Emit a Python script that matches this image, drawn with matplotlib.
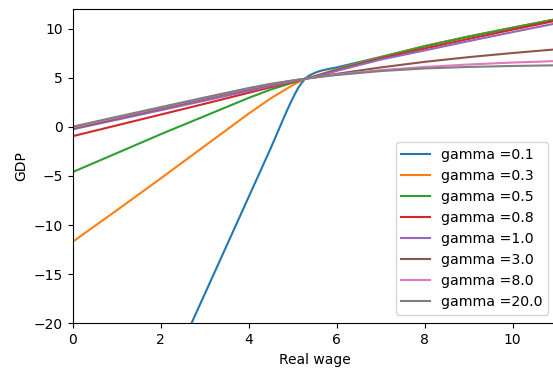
import numpy as np
import matplotlib
matplotlib.use('Agg')
import matplotlib.pyplot as plt

# values
gammas = [0.1, 0.3, 0.5, 0.8, 1.0, 3.0, 8.0, 20.0]

wage = [0, 1, 2, 3, 4, 4.5, 5, 5.28, 5.5, 6, 7, 8, 9, 10, 11]
gdp_03 = [-11.7, -8.5, -5.25, -1.95, 1.35, 2.9, 4.25, 4.9, 5.18, 5.87, 7.1, 8.22, 9.2, 10.1, 10.98]
gdp_05 = [-4.6, -2.68, -0.75, 1.1, 2.95, 3.8, 4.5, 4.9, 5.12, 5.82, 7.06, 8.18, 9.17, 10.08, 10.95]
gdp_08 = [-0.95, 0.15, 1.25, 2.35, 3.47, 4.03, 4.58, 4.9, 5.1, 5.75, 6.95, 7.98, 8.95, 9.9, 10.82]
gdp_10 = [-0.25, 0.72, 1.69, 2.67, 3.66, 4.16, 4.63, 4.9, 5.08, 5.7, 6.85, 7.78, 8.73, 9.65, 10.55]
gdp_30 = [-0.15, 0.86, 1.86, 2.86, 3.84, 4.3, 4.7, 4.9, 5.05, 5.4, 6.05, 6.62, 7.1, 7.52, 7.9]
gdp_80 = [-0.05, 0.96, 1.96, 2.95, 3.92, 4.36, 4.71, 4.9, 5.03, 5.33, 5.78, 6.1, 6.35, 6.55, 6.7]
gdp_200 = [0.02, 1.02, 2.01, 2.99, 3.95, 4.38, 4.72, 4.9, 5.02, 5.28, 5.68, 5.95, 6.1, 6.2, 6.27]

wage_01 = [2.7, 3, 3.5, 4, 4.5, 4.8, 4.94, 5.05, 5.13, 5.2, 5.28, 5.35, 5.43, 5.52, 5.62,
           5.8, 6, 7, 8, 9, 10, 11]
gdp_01 = [-20.0, -17.03, -12.08, -7.13, -2.18, 0.95, 2.35, 3.35, 4.0, 4.45, 4.9, 5.15, 5.35,
          5.53, 5.69, 5.88, 6.05, 7.12, 8.23, 9.21, 10.1, 10.98]

curves = [(wage_01, gdp_01), (wage, gdp_03), (wage, gdp_05), (wage, gdp_08),
          (wage, gdp_10), (wage, gdp_30), (wage, gdp_80), (wage, gdp_200)]

fig = plt.figure(figsize=(5.53, 3.69), dpi=100)
W, H = 553, 369
# axes box in pixels (right edge runs past the picture like the reference)
left, right, top, bottom = 72.7, 556.7, 9.0, 323.3
ax = fig.add_axes([left / W, 1 - bottom / H, (right - left) / W, (bottom - top) / H])

for g, (x, y) in zip(gammas, curves):
    ax.plot(x, y, label='gamma =' + str(g))

ax.set_xlim(0, 11)
ax.set_ylim(-20, 12)
ax.set_xticks([0, 2, 4, 6, 8, 10])
ax.set_yticks([-20, -15, -10, -5, 0, 5, 10])
ax.set_xlabel('Real wage')
ax.set_ylabel('GDP')
ax.legend(loc='lower right', borderaxespad=0.6, fontsize=10.2)

fig.savefig('out.png', dpi=100)
